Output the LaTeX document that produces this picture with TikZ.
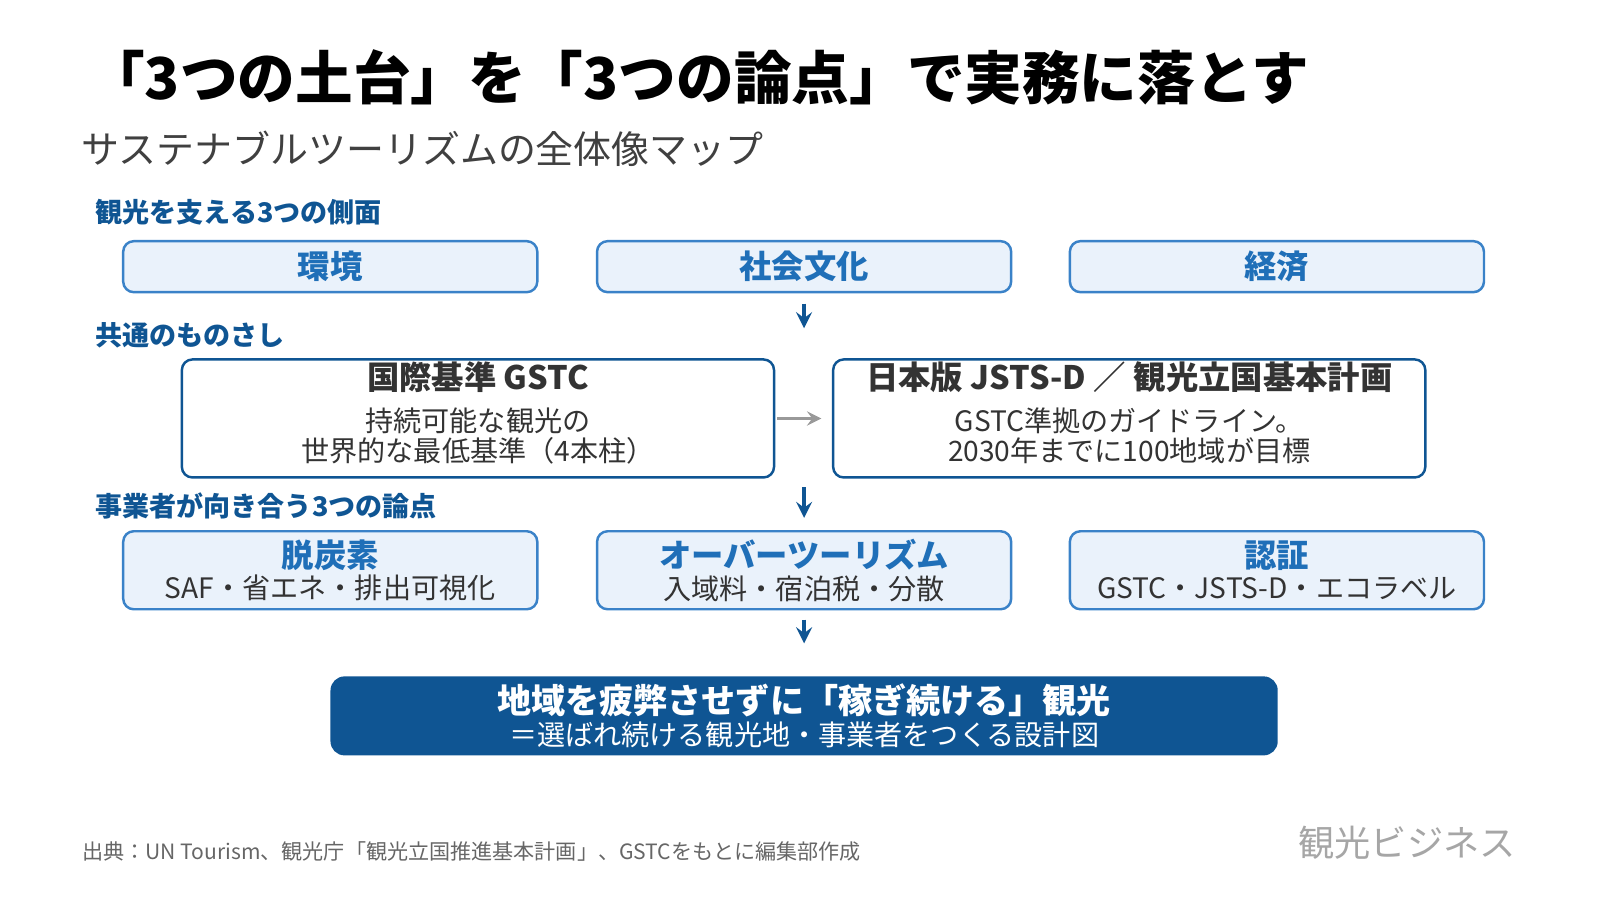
\documentclass[tikz,border=0pt]{standalone}
\usepackage{fontspec}
\setmainfont{Noto Sans CJK JP}
\usetikzlibrary{positioning}
\definecolor{navy}{HTML}{0F5593}
\definecolor{lblue}{HTML}{EAF2FB}
\definecolor{bblue}{HTML}{3A82C8}
\definecolor{hblue}{HTML}{1F6FB8}
\tikzset{
  pillar/.style={draw=bblue, fill=lblue, line width=0.7pt, rounded corners=3pt,
    minimum width=4.14cm, minimum height=0.51cm, inner sep=0pt},
  point/.style={pillar, minimum height=0.78cm, align=center},
  common/.style={draw=navy, fill=white, line width=0.7pt, rounded corners=3pt,
    minimum width=5.92cm, minimum height=1.18cm, align=center, inner sep=0pt},
  section/.style={anchor=west, text=navy, font=\bfseries\fontsize{7.7}{8}\selectfont},
  flow/.style={->, >=stealth, navy, line width=1pt}
}
\begin{document}
\begin{tikzpicture}[x=0.010256cm, y=-0.010256cm]
  \useasboundingbox (0,0) rectangle (1560,877.5);
  % Title and subtitle
  \node[anchor=west, font=\bfseries\fontsize{16.4}{17}\selectfont] (title) at (73,75)
    {「3つの土台」を「3つの論点」で実務に落とす};
  \node[anchor=west, text=black!75, font=\fontsize{10.8}{11}\selectfont] (sub) at (67,145)
    {サステナブルツーリズムの全体像マップ};

  % Section labels
  \node[section] (s1) at (81,207) {観光を支える3つの側面};
  \node[section] (s2) at (81,327) {共通のものさし};
  \node[section] (s3) at (81,493) {事業者が向き合う3つの論点};

  % Three pillars
  \node[pillar, font=\bfseries\fontsize{9.2}{10}\selectfont, text=hblue] (env) at (322,260) {環境};
  \node[pillar, font=\bfseries\fontsize{9.2}{10}\selectfont, text=hblue] (soc) at (784,260) {社会文化};
  \node[pillar, font=\bfseries\fontsize{9.2}{10}\selectfont, text=hblue] (eco) at (1245,260) {経済};

  % Common standards
  \node[common] (gstc) at (466,408) {};
  \node[font=\bfseries\fontsize{9.2}{10}\selectfont, text=black!80] at (466,368) {国際基準 GSTC};
  \node[font=\fontsize{8}{8.5}\selectfont, text=black!80, align=center] at (466,425)
    {持続可能な観光の\\世界的な最低基準（4本柱）};
  \node[common] (jsts) at (1101,408) {};
  \node[font=\bfseries\fontsize{9.2}{10}\selectfont, text=black!80] at (1101,368) {日本版 JSTS-D ／ 観光立国基本計画};
  \node[font=\fontsize{8}{8.5}\selectfont, text=black!80, align=center] at (1101,425)
    {GSTC準拠のガイドライン。\\2030年までに100地域が目標};

  % Three points
  \node[point] (dec) at (322,556) {{\bfseries\fontsize{9.2}{10}\selectfont\color{hblue}脱炭素}\\[-3pt]
    {\fontsize{8}{8.5}\selectfont\color{black!80}SAF・省エネ・排出可視化}};
  \node[point] (ovt) at (784,556) {{\bfseries\fontsize{9.2}{10}\selectfont\color{hblue}オーバーツーリズム}\\[-3pt]
    {\fontsize{8}{8.5}\selectfont\color{black!80}入域料・宿泊税・分散}};
  \node[point] (cert) at (1245,556) {{\bfseries\fontsize{9.2}{10}\selectfont\color{hblue}認証}\\[-3pt]
    {\fontsize{8}{8.5}\selectfont\color{black!80}GSTC・JSTS-D・エコラベル}};

  % Goal
  \node[fill=navy, rounded corners=4pt, minimum width=9.47cm, minimum height=0.79cm,
    align=center, text=white, inner sep=0pt] (goal) at (784,698)
    {{\bfseries\fontsize{9.7}{10}\selectfont 地域を疲弊させずに「稼ぎ続ける」観光}\\[-3pt]
     {\fontsize{8}{8.5}\selectfont ＝選ばれ続ける観光地・事業者をつくる設計図}};

  % Flow arrows
  \draw[flow] (soc.south) ++(0,10) -- ++(0,24);
  \draw[flow] (784,475) -- (784,505);
  \draw[flow] (ovt.south) ++(0,9) -- ++(0,23);
  \draw[->, >=stealth, gray!80, line width=0.8pt] (gstc.east) ++(2,0) -- ([xshift=-3pt]jsts.west);

  % Footer
  \node[anchor=west, text=black!60, font=\fontsize{6}{6.5}\selectfont] (src) at (68,830)
    {出典：UN Tourism、観光庁「観光立国推進基本計画」、GSTCをもとに編集部作成};
  \node[anchor=east, text=black!35, font=\fontsize{10.3}{11}\selectfont] (logo) at (1490,822) {観光ビジネス};
\end{tikzpicture}
\end{document}
